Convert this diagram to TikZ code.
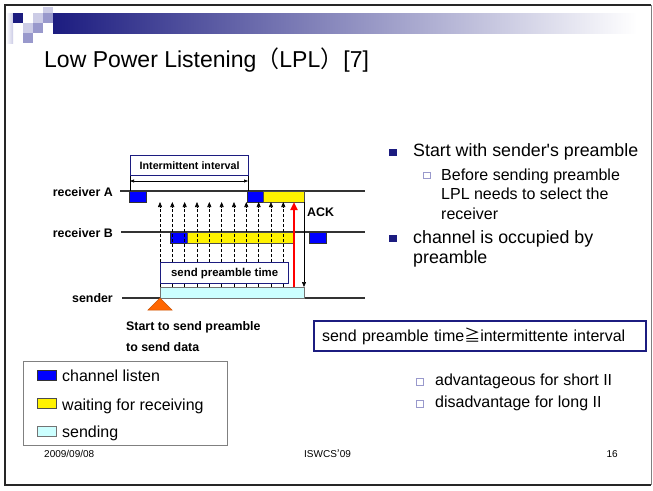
\documentclass[tikz,border=0pt]{standalone}
\usepackage{fontspec}
\setmainfont{Liberation Sans}[Ligatures=TeXOff]
\newfontfamily\cjk{Noto Sans CJK JP}
\usetikzlibrary{arrows.meta}
\definecolor{navy}{HTML}{1C1C80}
\definecolor{lav}{HTML}{9999CC}
\definecolor{lavl}{HTML}{CCCCE6}
\definecolor{cyanl}{HTML}{CCFFFF}
\definecolor{orangeT}{HTML}{FF6600}
\begin{document}
\begin{tikzpicture}[x=1pt,y=-1pt,
  tl/.style={line width=1.3pt, draw=black!80},
  bx/.style={inner sep=0pt, outer sep=0pt, minimum height=11, anchor=north west, line width=0.6pt},
  listen/.style={bx, draw=black!80, fill=blue},
  waitb/.style={bx, draw=black!70, fill=yellow},
  sendb/.style={bx, draw=black!55, fill=cyanl},
  lbl/.style={inner sep=0pt, font=\bfseries\fontsize{12.4}{14}\selectfont},
  tbox/.style={draw=navy, line width=1.3pt, fill=white, inner sep=0pt, anchor=north west},
  darr/.style={line width=0.6pt, dash pattern=on 3pt off 2pt, -{Triangle[length=5pt,width=4pt]}},
  txt/.style={inner sep=0pt, anchor=base west},
  big/.style={txt, font=\fontsize{17.8}{20}\selectfont},
  mid/.style={txt, font=\fontsize{16}{18}\selectfont},
  bul/.style={fill=navy, draw=none},
  sbul/.style={draw=lav, fill=white, line width=0.6pt}
]
\useasboundingbox (0,0) rectangle (653,490);
\fill[white] (0,0) rectangle (653,490);
% frame
\draw[line width=1.6pt, black!85] (651,5) -- (5,5) -- (5,485) -- (651,485);
\draw[line width=1pt, black!50] (651,5) -- (651,485);
% header decoration
\shade[left color=navy, right color=white] (53,13) rectangle (637,33);
\shade[left color=white, right color=lavl] (6,13) rectangle (13,43);
\fill[navy] (13,13) rectangle (23,23);
\fill[lavl] (33,13) rectangle (43,23);
\fill[lavl] (43,7) rectangle (53,13);
\fill[lav] (43,13) rectangle (53,23);
\fill[lavl] (23,23) rectangle (33,33);
\fill[lav] (33,23) rectangle (43,33);
\fill[lav] (23,33) rectangle (33,43);
% title
\node[txt, font=\fontsize{23}{27}\selectfont] (title) at (44,67) {Low Power Listening{\cjk （}LPL{\cjk ）}[7]};
% time lines
\coordinate (Aw) at (120,191); \coordinate (Ae) at (365,191);
\coordinate (Bw) at (121,232); \coordinate (Be) at (365,232);
\coordinate (Sw) at (122,298); \coordinate (Se) at (365,298);
\draw[tl] (Aw) -- (Ae);
\draw[tl] (Bw) -- (Be);
\draw[tl] (Sw) -- (Se);
\node[lbl, anchor=base east] (lA) at (113,196) {receiver A};
\node[lbl, anchor=base east] (lB) at (113,237) {receiver B};
\node[lbl, anchor=base east] (lS) at (113,302) {sender};
% intermittent interval
\node[tbox, minimum width=118, minimum height=20, font=\bfseries\fontsize{10.7}{12}\selectfont] (ii) at (130,155) {Intermittent interval};
\coordinate (t1a) at (130,176); \coordinate (t1b) at (130,191);
\coordinate (t2a) at (248,176); \coordinate (t2b) at (248,191);
\draw[line width=0.6pt] (t1a) -- (t1b);
\draw[line width=0.6pt] (t2a) -- (t2b);
\coordinate (i1) at (130,181); \coordinate (i2) at (248,181);
\draw[line width=0.6pt, {Triangle[length=4pt,width=3pt]}-{Triangle[length=4pt,width=3pt]}] (i1) -- (i2);
% receiver A boxes
\node[listen, minimum width=17] (a1) at (129,191) {};
\node[listen, minimum width=16] (a2) at (247,191) {};
\node[waitb, minimum width=41] (a3) at (263,191) {};
% receiver B boxes
\node[listen, minimum width=17] (b1) at (170,232) {};
\node[waitb, minimum width=106] (b2) at (187,232) {};
\node[listen, minimum width=17] (b3) at (309,232) {};
% sender box
\node[sendb, minimum width=144] (s1) at (160,287) {};
% dashed arrows
\foreach \i in {0,...,10} {
  \pgfmathsetmacro\xx{160+12.33*\i}
  \coordinate (ds\i) at (\xx,287);
  \coordinate (de\i) at (\xx,202);
  \draw[darr] (ds\i) -- (de\i);
}
% send preamble time box
\node[tbox, minimum width=128, minimum height=21, font=\bfseries\fontsize{11.4}{13}\selectfont] (spt) at (160,262) {send preamble time};
% red arrow
\coordinate (r1) at (294,287); \coordinate (r2) at (294,202);
\draw[line width=2.2pt, red, -{Triangle[length=8pt,width=7pt]}] (r1) -- (r2);
% ACK arrow
\coordinate (k1) at (304,202); \coordinate (k2) at (304,287);
\draw[line width=0.6pt, -{Triangle[length=5pt,width=4pt]}] (k1) -- (k2);
\node[lbl, anchor=west] (ack) at (307,212) {ACK};
% start triangle
\filldraw[fill=orangeT, draw=orangeT!80!black, line width=0.5pt] (160,298) -- (172,310) -- (148,310) -- cycle;
\node[lbl, anchor=base west] (st1) at (126,330) {Start to send preamble};
\node[lbl, anchor=base west] (st2) at (126,351) {to send data};
% right bullets
\fill[bul] (389,149) rectangle (397,156);
\node[big] (b1t) at (413,156) {Start with sender's preamble};
\draw[sbul] (423,172) rectangle (430,178);
\node[mid] (s1a) at (441,180) {Before sending preamble};
\node[mid] (s1b) at (441,199) {LPL needs to select the};
\node[mid] (s1c) at (441,219) {receiver};
\fill[bul] (389,235) rectangle (397,242);
\node[big] (b2a) at (413,243) {channel is occupied by};
\node[big] (b2b) at (413,263) {preamble};
% condition box
\node[draw=navy, line width=2pt, anchor=north west, text width=316, inner xsep=8, inner ysep=0, minimum height=30, align=left, font=\fontsize{16}{18}\selectfont] (cond) at (313,320) {send preamble time{\cjk ≧}intermittente interval};
\draw[sbul] (416,378) rectangle (423,385);
\node[mid] (c1) at (435,385) {advantageous for short II};
\draw[sbul] (416,400) rectangle (423,407);
\node[mid] (c2) at (435,407) {disadvantage for long II};
% legend
\node[draw=black!50, line width=0.8pt, anchor=north west, minimum width=204, minimum height=84, inner sep=0] (leg) at (23,361) {};
\node[bx, draw=black!80, fill=blue, minimum width=19, minimum height=10] (lg1) at (37,370) {};
\node[bx, draw=black!70, fill=yellow, minimum width=19, minimum height=10] (lg2) at (37,398) {};
\node[bx, draw=black!55, fill=cyanl, minimum width=19, minimum height=10] (lg3) at (37,426) {};
\node[mid] (lt1) at (62,381) {channel listen};
\node[mid] (lt2) at (62,410) {waiting for receiving};
\node[mid] (lt3) at (62,437) {sending};
% footer
\node[txt, font=\fontsize{10}{12}\selectfont] (f1) at (44,457) {2009/09/08};
\node[txt, font=\fontsize{10}{12}\selectfont] (f2) at (304,457) {ISWCS{\cjk ’}09};
\node[inner sep=0pt, anchor=base east, font=\fontsize{10}{12}\selectfont] (f3) at (618,457) {16};
\end{tikzpicture}
\end{document}
